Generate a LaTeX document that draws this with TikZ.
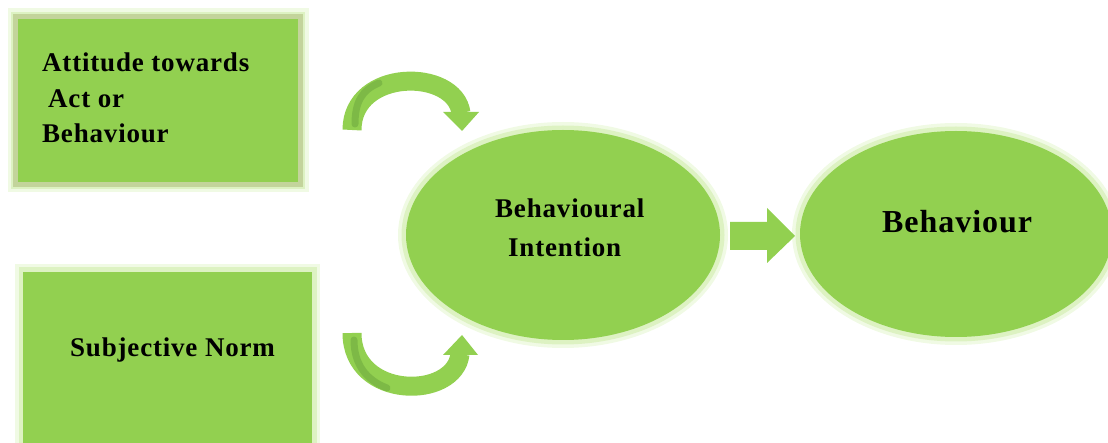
\documentclass[tikz,border=0pt]{standalone}
\usepackage{fontspec}
\setmainfont{Liberation Serif}[LetterSpace=3]
\usetikzlibrary{shapes.geometric}
\definecolor{gmain}{HTML}{92D050}
\definecolor{gdark}{HTML}{78B444}
\definecolor{gborder}{HTML}{C3D49B}
\definecolor{glowA}{HTML}{F0FAE4}
\definecolor{glowB}{HTML}{DDF2C2}
\begin{document}
\begin{tikzpicture}[x=1pt,y=-1pt,
  lbl/.style={font=\bfseries\fontsize{27}{27}\selectfont, text=black, inner sep=0, anchor=base west},
  biglbl/.style={font=\bfseries\fontsize{32}{32}\selectfont, text=black, inner sep=0, anchor=base west},
  glow/.style={preaction={draw=glowA, line width=16}, preaction={draw=glowB, line width=9}},
  boxA/.style={rectangle, inner sep=0, fill=gmain, draw=gborder, line width=5, glow},
  boxB/.style={rectangle, inner sep=0, fill=gmain, glow},
  oval/.style={ellipse, inner sep=0, fill=gmain, glow},
  shaft/.style={draw=gmain, line width=19},
  band/.style={draw=gdark, line width=7, line cap=round, opacity=0.8}]
\useasboundingbox (0,0) rectangle (1108,443);
\clip (0,0) rectangle (1108,443);

% boxes
\node[boxA, minimum width=285, minimum height=168] (att) at (158,100.5) {};
\node[boxB, minimum width=289, minimum height=200] (sub) at (167.5,372) {};

% ellipses
\node[oval, minimum width=314, minimum height=210] (bi) at (563,235) {};
\node[oval, minimum width=312, minimum height=206] (beh) at (956,234) {};

% labels
\node[lbl] (t1) at (42,72) {Attitude towards};
\node[lbl] (t2) at (48,108) {Act or};
\node[lbl] (t3) at (42,143) {Behaviour};
\node[lbl] (t4) at (70,357) {Subjective Norm};
\node[lbl] (t5) at (495,218) {Behavioural};
\node[lbl] (t6) at (508,257) {Intention};
\node[biglbl] (t7) at (882,233) {Behaviour};

% top curved arrow
\coordinate (ua) at (352,130);
\coordinate (ub) at (461,113);
\draw[shaft] (ua) .. controls (352,68) and (455,68) .. (ub);
\fill[gmain] (443,112) -- (479,112) -- (462,131) -- cycle;
\draw[band] (355,124) .. controls (355,102) and (362,90) .. (379,83);

% bottom curved arrow
\coordinate (la) at (352,333);
\coordinate (lb) at (460,354);
\draw[shaft] (la) .. controls (352,400) and (455,400) .. (lb);
\fill[gmain] (443,355) -- (478,355) -- (462,335) -- cycle;
\draw[band] (354,340) .. controls (354,364) and (366,380) .. (387,388);

% straight block arrow
\fill[gmain] (730,222) -- (767,222) -- (767,208) -- (795,236) -- (767,263) -- (767,250) -- (730,250) -- cycle;
\end{tikzpicture}
\end{document}
